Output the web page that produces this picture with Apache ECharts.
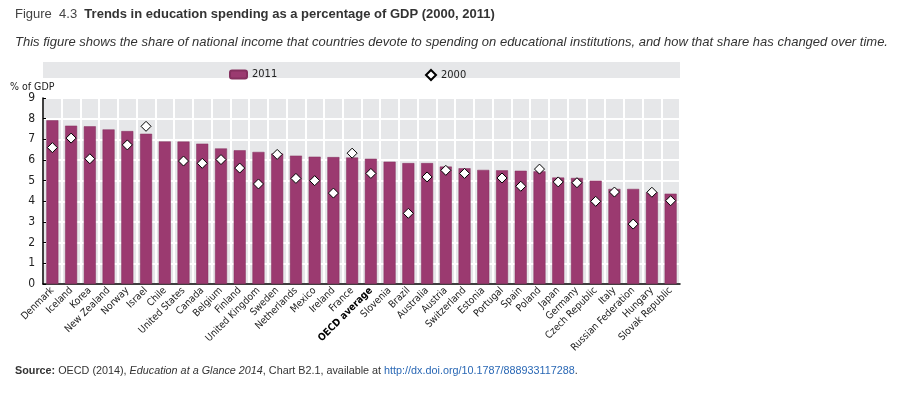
<!DOCTYPE html>
<html>
<head>
<meta charset="utf-8">
<script src="https://cdn.jsdelivr.net/npm/echarts@6/dist/echarts.min.js"></script>
<style>
  html, body { margin: 0; padding: 0; background: #fff; }
  #chart { width: 908px; height: 398px; }
</style>
</head>
<body>
<div id="chart"></div>
<script>
const countries = ['Denmark', 'Iceland', 'Korea', 'New Zealand', 'Norway', 'Israel', 'Chile',
  'United States', 'Canada', 'Belgium', 'Finland', 'United Kingdom', 'Sweden', 'Netherlands',
  'Mexico', 'Ireland', 'France', 'OECD average', 'Slovenia', 'Brazil', 'Australia', 'Austria',
  'Switzerland', 'Estonia', 'Portugal', 'Spain', 'Poland', 'Japan', 'Germany', 'Czech Republic',
  'Italy', 'Russian Federation', 'Hungary', 'Slovak Republic']

const spend2011 = [7.92, 7.66, 7.63, 7.48, 7.40, 7.27, 6.90, 6.89, 6.79, 6.56, 6.47, 6.39, 6.31, 6.21,
  6.16, 6.14, 6.12, 6.06, 5.92, 5.85, 5.85, 5.68, 5.60, 5.52, 5.50, 5.48, 5.45, 5.15, 5.13, 5.00,
  4.60, 4.60, 4.44, 4.37]

// null = no 2000 data
const spend2000 = [6.60, 7.06, 6.06, null, 6.73, 7.63, null, 5.95, 5.84, 6.02, 5.61, 4.84, 6.27, 5.11,
  5.00, 4.40, 6.33, 5.35, null, 3.42, 5.18, 5.50, 5.35, null, 5.13, 4.73, 5.56, 4.94, 4.90, 4.00,
  4.45, 2.90, 4.44, 4.03]

const yTicks = [0, 9, 1]  // min, max, interval

const purple = '#9b3a70'
const panel = '#e6e7e9'
const txt = '#222'
const narrow = '"DejaVu Sans Condensed", "Liberation Sans", sans-serif'

const chart = echarts.init(document.getElementById('chart'))

const srcStyle = { fontFamily: 'Liberation Sans', fontSize: 10.8, lineHeight: 14, color: '#333' }

let option = {
  animation: false,
  title: [
    {
      left: 10,
      top: 1,
      text: '{a|Figure  4.3  }{b|Trends in education spending as a percentage of GDP (2000, 2011)}',
      textStyle: {
        fontWeight: 'normal',
        rich: {
          a: { fontFamily: 'Liberation Sans', fontSize: 13, lineHeight: 16, fontWeight: 'normal', color: '#444' },
          b: { fontFamily: 'Liberation Sans', fontSize: 13, lineHeight: 16, fontWeight: 'bold', color: '#333' }
        }
      }
    },
    {
      left: 10,
      top: 31,
      text: 'This figure shows the share of national income that countries devote to spending on educational institutions, and how that share has changed over time.',
      textStyle: { fontFamily: 'Liberation Sans', fontSize: 13, fontStyle: 'italic', fontWeight: 'normal', color: '#333' }
    },
    {
      left: 10,
      top: 359,
      text: '{b|Source:}{n| OECD (2014), }{i|Education at a Glance 2014}{n|, Chart B2.1, available at }{l|http://dx.doi.org/10.1787/888933117288}{n|.}',
      textStyle: {
        fontWeight: 'normal',
        rich: {
          n: Object.assign({}, srcStyle),
          b: Object.assign({}, srcStyle, { fontWeight: 'bold' }),
          i: Object.assign({}, srcStyle, { fontStyle: 'italic' }),
          l: Object.assign({}, srcStyle, { color: '#2a68b5' })
        }
      }
    }
  ],
  graphic: [
    {
      type: 'rect',
      left: 43,
      top: 62,
      shape: { width: 637, height: 16 },
      style: { fill: panel },
      z: -1
    },
    {
      type: 'text',
      left: 10,
      top: 82,
      style: { text: '% of GDP', font: '10.5px ' + narrow, fill: txt }
    }
  ],
  legend: [
    {
      data: ['2011'],
      left: 224,
      top: 64,
      itemWidth: 17,
      itemHeight: 8,
      textStyle: { fontFamily: narrow, fontSize: 11, color: txt }
    },
    {
      data: [{ name: '2000', icon: 'diamond' }],
      left: 420,
      top: 64,
      itemWidth: 10,
      itemHeight: 10,
      textStyle: { fontFamily: narrow, fontSize: 11, color: txt }
    }
  ],
  grid: {
    left: 43,
    right: 228,
    top: 98,
    bottom: 114,
    show: true,
    backgroundColor: panel,
    borderWidth: 0
  },
  xAxis: {
    type: 'category',
    data: countries,
    axisLine: { lineStyle: { color: '#000', width: 1.5 } },
    axisTick: { inside: true, length: 3, lineStyle: { color: '#999' } },
    splitLine: { show: true, lineStyle: { color: '#fff', width: 2 } },
    axisLabel: {
      rotate: 45,
      interval: 0,
      margin: 5,
      fontFamily: narrow,
      fontSize: 10,
      color: txt,
      formatter: v => v === 'OECD average' ? '{b|' + v + '}' : v,
      rich: { b: { fontFamily: narrow, fontSize: 10, fontWeight: 'bold', color: '#000' } }
    }
  },
  yAxis: {
    type: 'value',
    min: yTicks[0],
    max: yTicks[1],
    interval: yTicks[2],
    axisLine: { show: true, lineStyle: { color: '#000', width: 1.5 } },
    axisTick: { show: true, inside: true, length: 3, lineStyle: { color: '#000' } },
    splitLine: { lineStyle: { color: '#fff', width: 2 } },
    axisLabel: { fontFamily: narrow, fontSize: 12, color: txt, margin: 8 }
  },
  series: [
    {
      name: '2011',
      type: 'bar',
      data: spend2011,
      barWidth: 12,
      itemStyle: { color: purple, borderColor: '#85305f', borderWidth: 0.5 }
    },
    {
      name: '2000',
      type: 'scatter',
      data: spend2000,
      symbol: 'diamond',
      symbolSize: 10,
      itemStyle: { color: '#fff', borderColor: '#000', borderWidth: 1, opacity: 1 },
      z: 5
    }
  ]
}

chart.setOption(option)
</script>
</body>
</html>
